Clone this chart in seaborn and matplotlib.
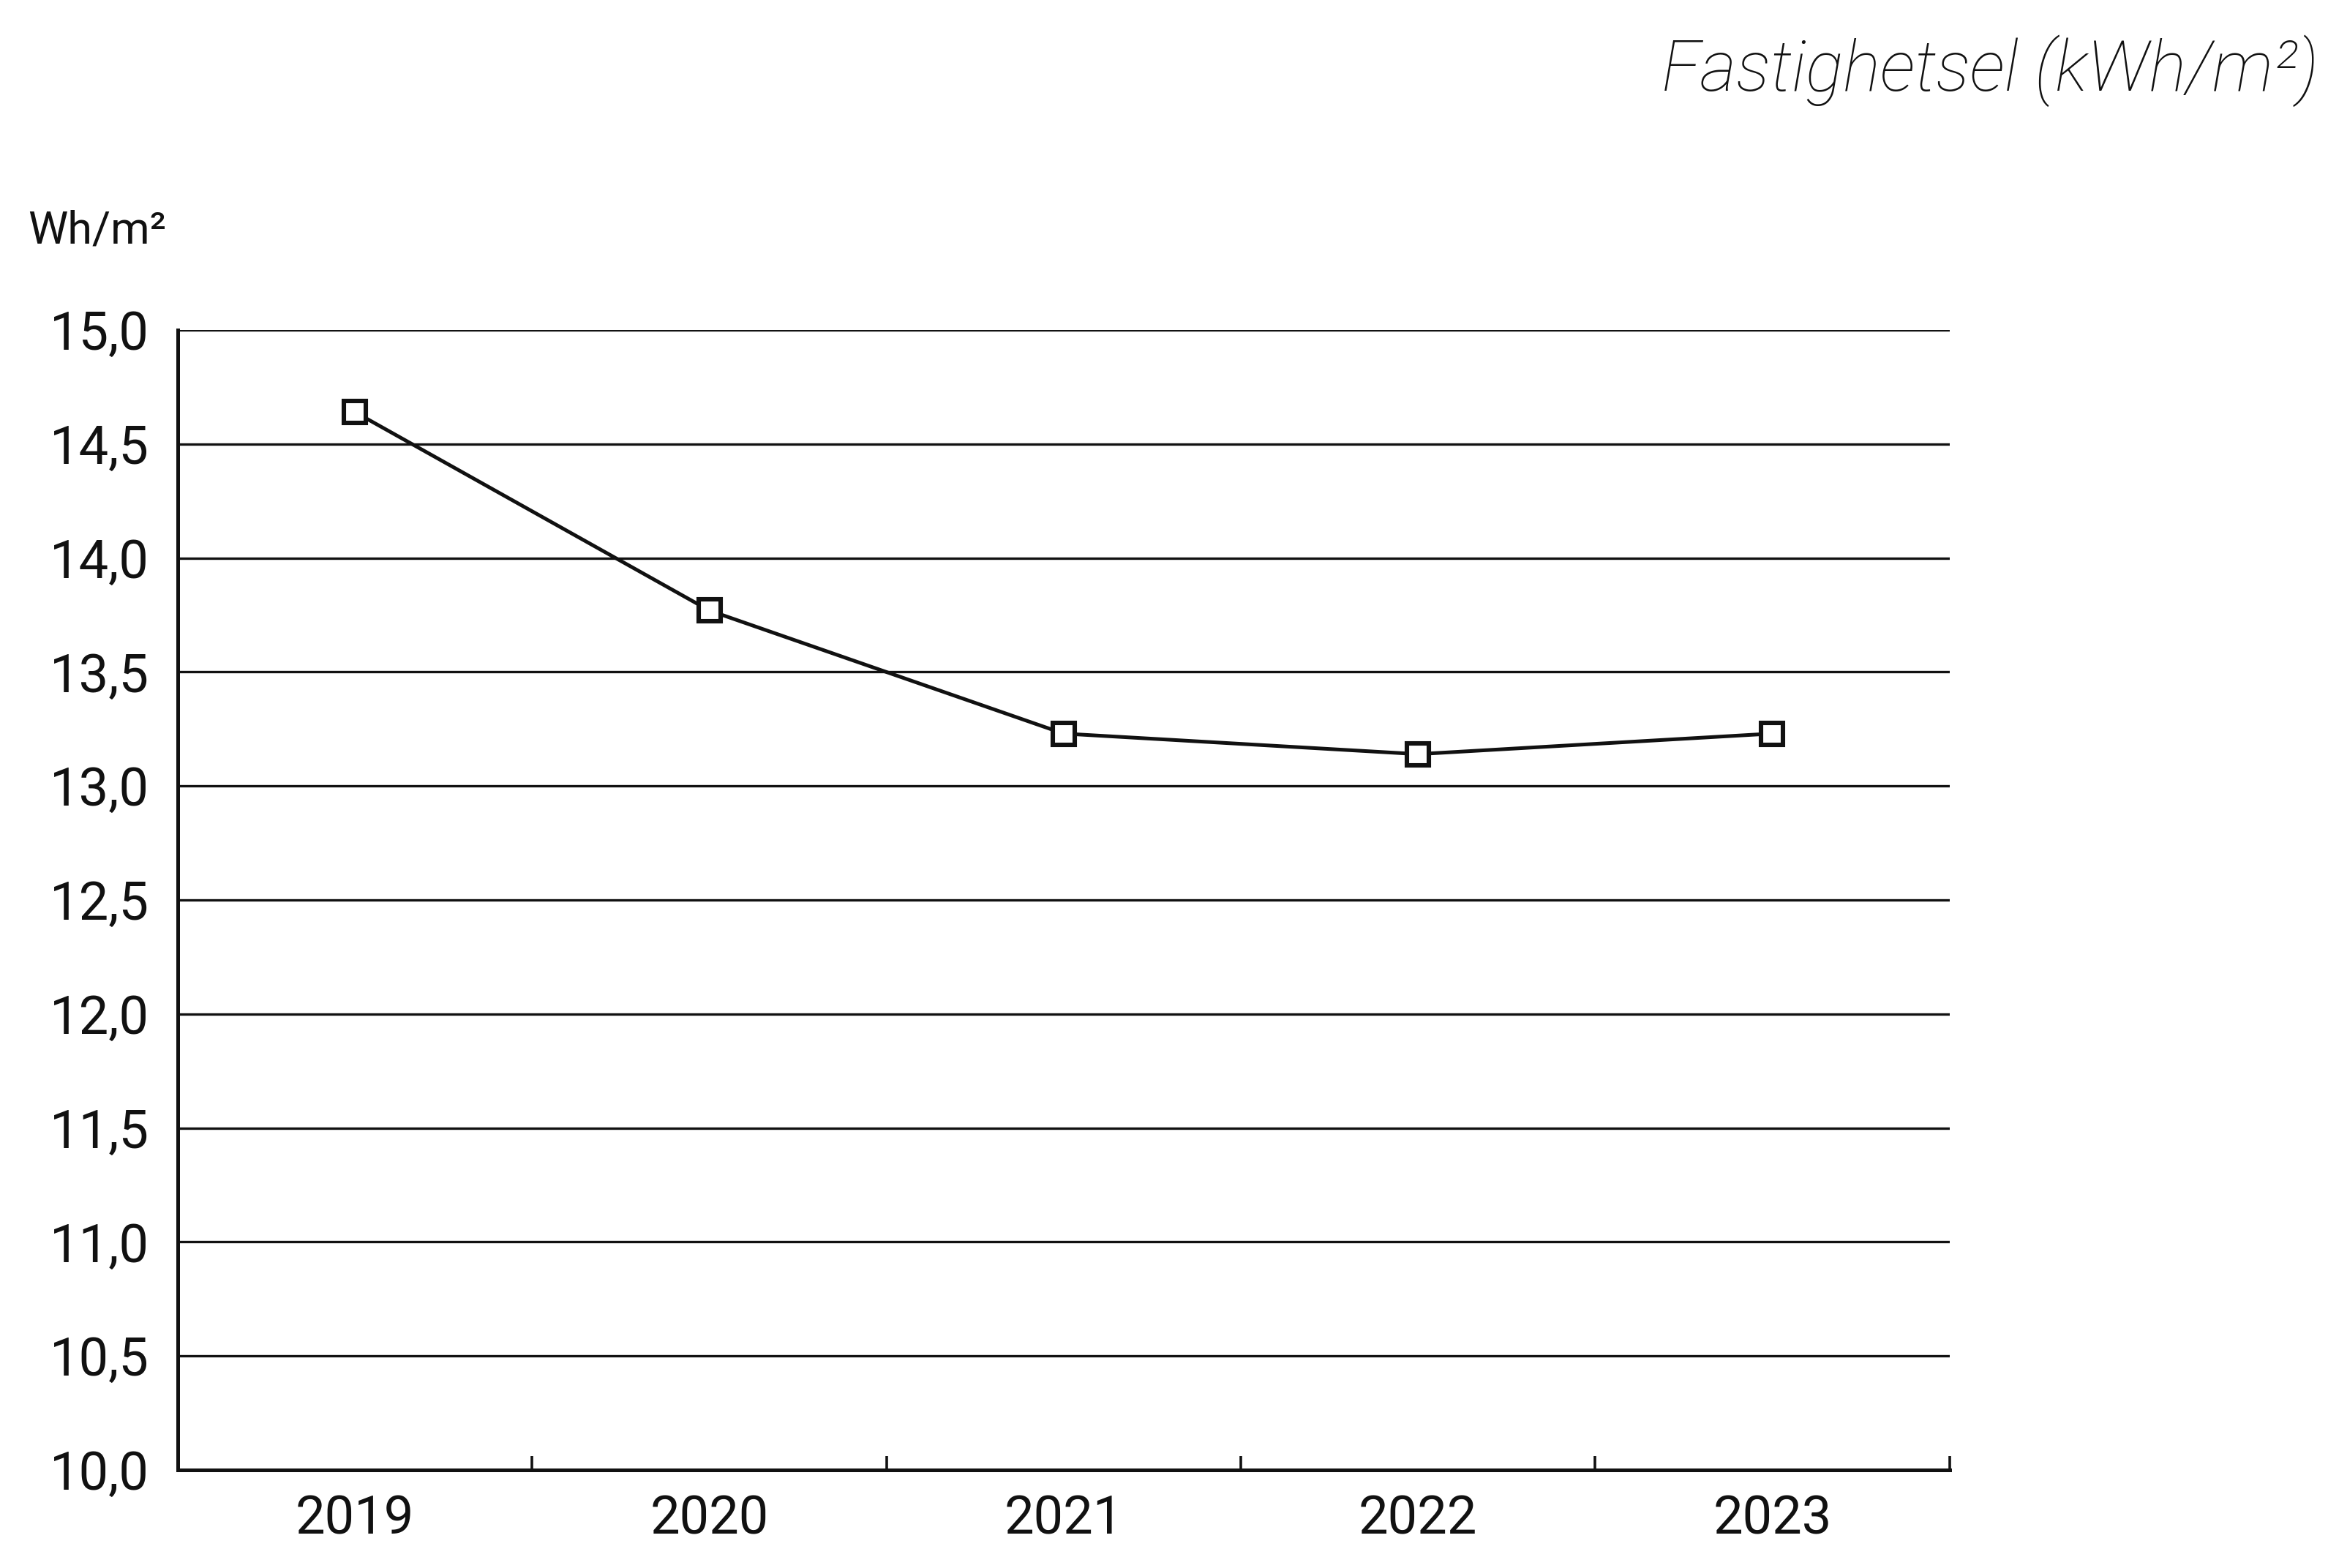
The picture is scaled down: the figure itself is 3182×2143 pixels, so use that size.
import numpy as np
import pandas as pd
import matplotlib.pyplot as plt
import seaborn as sns
from matplotlib.ticker import FixedLocator

years = ['2019', '2020', '2021', '2022', '2023']
values = [14.64, 13.77, 13.23, 13.14, 13.23]
yticks = [10.0, 10.5, 11.0, 11.5, 12.0, 12.5, 13.0, 13.5, 14.0, 14.5, 15.0]

df = pd.DataFrame({'year': years, 'value': values})

sns.set_theme(style='white')
plt.rcParams['font.family'] = ['Roboto', 'DejaVu Sans']

fig = plt.figure(figsize=(15.91, 10.715), dpi=200)
ax = fig.add_axes([0.0764, 0.0625, 0.761, 0.727])

# gridlines dessinées à la main (plein, noir)
for v in yticks[1:]:
    ax.axhline(v, color='#111111', lw=1.2, zorder=1)

sns.lineplot(data=df, x='year', y='value', ax=ax, color='#111111', lw=1.8,
             marker='s', markersize=11, markerfacecolor='white',
             markeredgecolor='#111111', markeredgewidth=2.2, zorder=3)

ax.set_xlim(-0.5, 4.5)
ax.set_ylim(10, 15)
ax.set_yticks(yticks)
ax.set_yticklabels([f'{v:.1f}'.replace('.', ',') for v in yticks])
ax.set_xticks(range(len(years)))
ax.set_xticklabels(years)
ax.xaxis.set_minor_locator(FixedLocator([0.5, 1.5, 2.5, 3.5, 4.5]))
ax.tick_params(axis='x', which='major', length=0, labelsize=26, pad=12, colors='#111111')
ax.tick_params(axis='x', which='minor', direction='in', length=7, width=1.3,
               color='#111111', bottom=True)
ax.tick_params(axis='y', length=0, labelsize=26, pad=14, colors='#111111')
ax.set_xlabel('')
ax.set_ylabel('')

for s in ['top', 'right']:
    ax.spines[s].set_visible(False)
for s in ['left', 'bottom']:
    ax.spines[s].set_color('#111111')
    ax.spines[s].set_linewidth(1.8)

fig.text(0.012, 0.853, 'Wh/m²', fontsize=22, ha='left', va='center', color='#111111')
fig.text(0.996, 0.955, 'Fastighetsel (kWh/m²)', fontsize=34.5, ha='right', va='center',
         style='italic', fontweight='light', color='#111111')

fig.savefig('out.png', dpi=200, facecolor='white')
